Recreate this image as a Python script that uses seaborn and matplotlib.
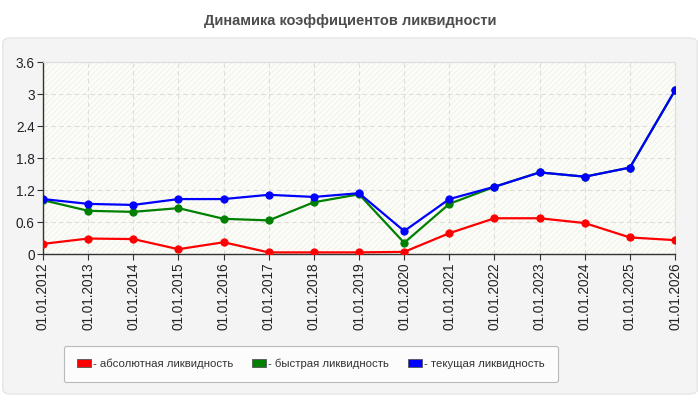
import pandas as pd
import numpy as np
import seaborn as sns
import matplotlib.pyplot as plt
from matplotlib.patches import FancyBboxPatch, Rectangle, Patch

dates = ['01.01.2012', '01.01.2013', '01.01.2014', '01.01.2015', '01.01.2016',
         '01.01.2017', '01.01.2018', '01.01.2019', '01.01.2020', '01.01.2021',
         '01.01.2022', '01.01.2023', '01.01.2024', '01.01.2025', '01.01.2026']
absolute = [0.19, 0.29, 0.28, 0.09, 0.22, 0.03, 0.03, 0.03, 0.04, 0.39,
            0.67, 0.67, 0.58, 0.31, 0.26]
quick = [1.01, 0.81, 0.79, 0.86, 0.66, 0.63, 0.97, 1.12, 0.21, 0.94,
         1.26, 1.53, 1.45, 1.62, 3.07]
current = [1.03, 0.94, 0.92, 1.03, 1.03, 1.11, 1.07, 1.14, 0.43, 1.03,
           1.26, 1.53, 1.45, 1.62, 3.07]
names = ['- абсолютная ликвидность', '- быстрая ликвидность', '- текущая ликвидность']
colors = ['#ff0000', '#008000', '#0000ff']
yticks = [0, 0.6, 1.2, 1.8, 2.4, 3, 3.6]

sns.set_style('white')
plt.rcParams['font.family'] = ['Liberation Sans', 'DejaVu Sans']
plt.rcParams['hatch.linewidth'] = 0.6

fig = plt.figure(figsize=(7, 4), dpi=100)
fig.patch.set_facecolor('white')

# grey panel behind the chart
panel = FancyBboxPatch((0.004, 0.015), 0.992, 0.89, boxstyle='round,pad=0,rounding_size=0.012',
                       transform=fig.transFigure, facecolor='#f4f4f4', edgecolor='#e6e6e6',
                       linewidth=1, zorder=-5)
fig.patches.append(panel)

fig.text(0.5, 0.948, 'Динамика коэффициентов ликвидности', ha='center', va='center',
         fontsize=10.5, fontweight='bold', color='#4d4d4d')

ax = fig.add_axes([0.0614, 0.365, 0.903, 0.48])
ax.set_facecolor('#fdfdf7')
ax.add_patch(Rectangle((0, 0), 1, 1, transform=ax.transAxes, facecolor='none',
                       edgecolor='#eeeeee', hatch='//////', linewidth=0, zorder=0))

x = np.arange(len(dates))
df = pd.DataFrame({'x': np.tile(x, 3),
                   'value': absolute + quick + current,
                   'series': np.repeat(names, len(dates))})

for name, color in zip(names, colors):
    sub = df[df['series'] == name]
    sns.lineplot(data=sub, x='x', y='value', color=color, marker='o', markersize=5.2,
                 markeredgecolor=color, linewidth=1.6, ax=ax, zorder=3)

ax.set_xlim(0, len(dates) - 1)
ax.set_ylim(0, 3.6)
ax.set_xticks(x)
ax.set_xticklabels(dates, rotation=90, fontsize=9.8, color='#222222')
ax.set_yticks(yticks)
ax.set_yticklabels(['0', '0.6', '1.2', '1.8', '2.4', '3', '3.6'], fontsize=9.8, color='#222222')
ax.set_xlabel('')
ax.set_ylabel('')
ax.grid(True, color='#dddddd', linestyle=(0, (4, 3)), linewidth=0.8)
ax.set_axisbelow(True)
ax.tick_params(axis='both', direction='out', length=4, width=0.8, color='#333333', pad=2)
ax.tick_params(axis='x', bottom=True)
ax.tick_params(axis='y', left=True)
for side in ['top', 'right']:
    ax.spines[side].set_color('#dddddd')
    ax.spines[side].set_linewidth(0.8)
for side in ['left', 'bottom']:
    ax.spines[side].set_color('#333333')
    ax.spines[side].set_linewidth(1)

handles = [Patch(facecolor=c, edgecolor='#555555', linewidth=0.6) for c in colors]
leg = fig.legend(handles, names, loc='center', bbox_to_anchor=(0.444, 0.09), ncol=3,
                 fontsize=8.2, frameon=True, fancybox=True, handlelength=1.25, handleheight=0.7,
                 handletextpad=0.2, columnspacing=1.6, borderpad=1.15, labelcolor='#333333')
leg.get_frame().set_edgecolor('#aaaaaa')
leg.get_frame().set_facecolor('white')
leg.get_frame().set_linewidth(0.8)

fig.savefig('out.png', dpi=100, facecolor=fig.get_facecolor())
